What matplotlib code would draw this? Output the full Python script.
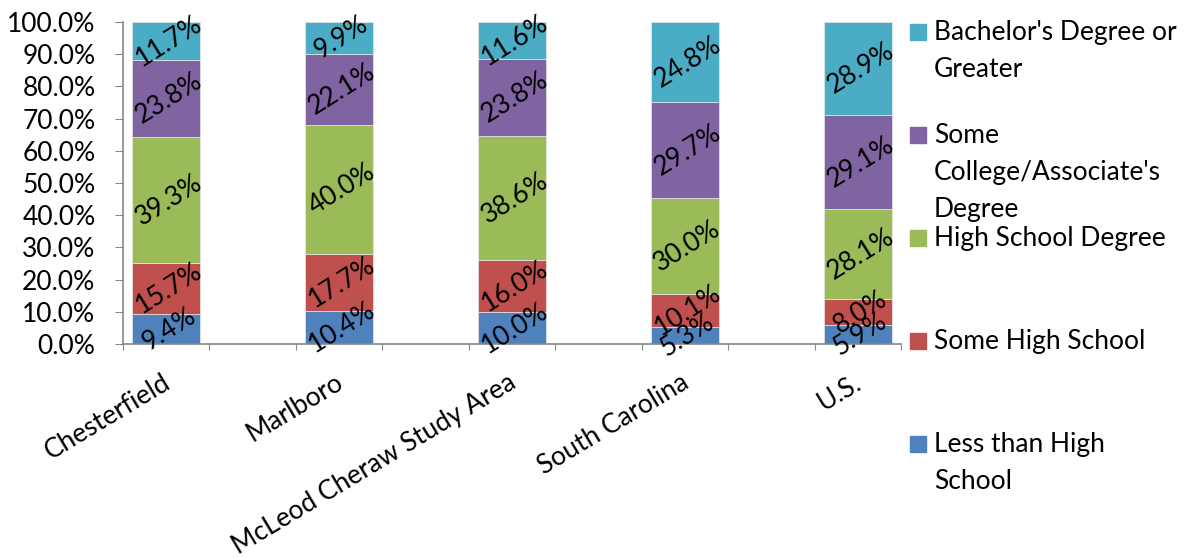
import numpy as np
import matplotlib
matplotlib.use('Agg')
import matplotlib.pyplot as plt
from matplotlib.patches import Rectangle

plt.rcParams['font.family'] = ['Lato', 'DejaVu Sans']

# education attainment shares (%)
areas = ['Chesterfield', 'Marlboro', 'McLeod Cheraw Study Area', 'South Carolina', 'U.S.']
less_than_hs = [9.4, 10.4, 10.0, 5.3, 5.9]
some_hs = [15.7, 17.7, 16.0, 10.1, 8.0]
hs_degree = [39.3, 40.0, 38.6, 30.0, 28.1]
some_college = [23.8, 22.1, 23.8, 29.7, 29.1]
bachelors = [11.7, 9.9, 11.6, 24.8, 28.9]

series = [
    ('Less than High\nSchool', less_than_hs, '#4F81BD'),
    ('Some High School', some_hs, '#C0504D'),
    ('High School Degree', hs_degree, '#9BBB59'),
    ("Some\nCollege/Associate's\nDegree", some_college, '#8064A2'),
    ("Bachelor's Degree or\nGreater", bachelors, '#4BACC6'),
]

FS = 19

fig = plt.figure(figsize=(11.88, 5.58), dpi=100)
ax = fig.add_axes([0.1035, 0.3835, 0.6549, 0.5771])

# bars sit on every other slot, leaving empty slots between them
x = np.arange(len(areas)) * 2
bottom = np.zeros(len(areas))
for name, vals, col in series:
    vals = np.array(vals)
    ax.bar(x, vals, width=0.79, bottom=bottom, color=col,
           edgecolor='#e8e8e8', linewidth=0.5)
    for xi, b, v in zip(x, bottom, vals):
        ax.text(xi + 0.03, b + v / 2, f'{v:.1f}%', ha='center', va='center',
                rotation=32, fontsize=FS, color='black')
    bottom += vals

ax.set_xlim(-0.5, 8.5)
ax.set_ylim(0, 100)
ax.set_yticks(np.arange(0, 101, 10))
ax.set_yticklabels([f'{t:.1f}%' for t in np.arange(0, 101, 10)], fontsize=FS)

ax.set_xticks(np.arange(-0.5, 9, 1))
ax.set_xticklabels([])
ax.tick_params(axis='x', length=4.5, color='#868686')
ax.tick_params(axis='y', length=5.8, color='#868686', pad=14)

for xi, name in zip(x, areas):
    ax.text(xi - 0.05, -8, name, rotation=31, ha='right', va='top',
            rotation_mode='anchor', fontsize=FS)

for s in ['top', 'right']:
    ax.spines[s].set_visible(False)
for s in ['left', 'bottom']:
    ax.spines[s].set_color('#868686')
    ax.spines[s].set_linewidth(1.2)

# legend, top entry first
W, H = 1188.0, 558.0
for i, (name, vals, col) in enumerate(reversed(series)):
    top = 24 + i * 103
    fig.patches.append(Rectangle((910 / W, 1 - (top + 16) / H), 16 / W, 16 / H,
                                 transform=fig.transFigure, color=col))
    fig.text(934 / W, 1 - (top - 4) / H, name, ha='left', va='top',
             fontsize=FS, linespacing=1.6)

fig.savefig('out.png', dpi=100)
